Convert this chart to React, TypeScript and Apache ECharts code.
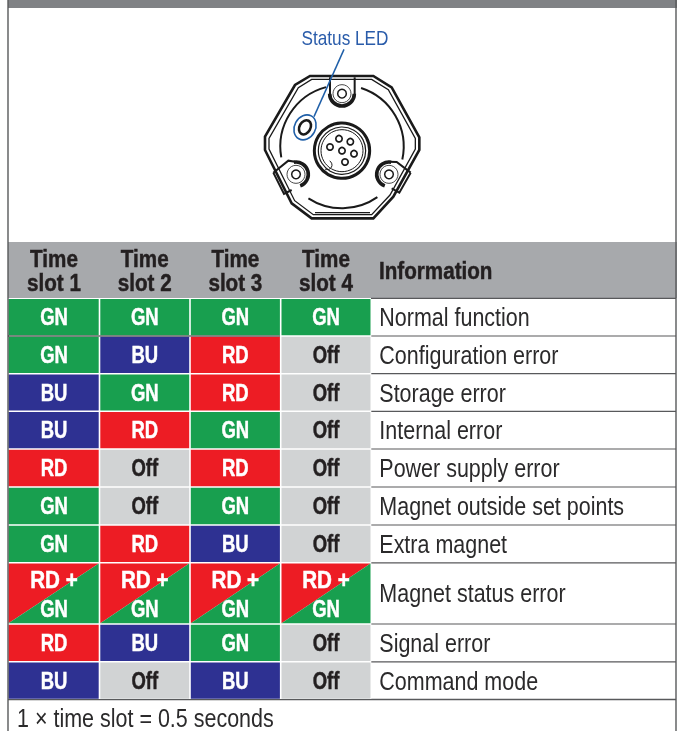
import React, { useEffect, useRef } from "react";
import * as echarts from "echarts";

// ---- data ----
const timeSlots = ["Time\nslot 1", "Time\nslot 2", "Time\nslot 3", "Time\nslot 4"];
const infoHeader = "Information";
const information = [
  "Normal function",
  "Configuration error",
  "Storage error",
  "Internal error",
  "Power supply error",
  "Magnet outside set points",
  "Extra magnet",
  "Magnet status error",
  "Signal error",
  "Command mode",
];
const slot1 = ["GN", "GN", "BU", "BU", "RD", "GN", "GN", "RD + GN", "RD", "BU"];
const slot2 = ["GN", "BU", "GN", "RD", "Off", "Off", "RD", "RD + GN", "BU", "Off"];
const slot3 = ["GN", "RD", "RD", "GN", "RD", "GN", "BU", "RD + GN", "GN", "BU"];
const slot4 = ["GN", "Off", "Off", "Off", "Off", "Off", "Off", "RD + GN", "Off", "Off"];
const footnote = "1 \u00d7 time slot = 0.5 seconds";
const calloutLabel = "Status LED";

// ---- layout and style ----
const W = 684;
const H = 731;
const colEdges = [8.5, 99.5, 190, 280.7, 371.3, 676];
const rowEdges = [298.3, 336, 373.7, 411.3, 449, 487, 525, 562.8, 624, 661.8, 699.4];
const colors: Record<string, string> = { GN: "#189f4f", BU: "#2e3192", RD: "#ed1c24", Off: "#d1d3d4" };
const FONT = '"Liberation Sans", sans-serif';
const INK = "#231f20";
const LINE = "#58595b";
const boldFont = `bold 24px ${FONT}`;
const infoFont = `25px ${FONT}`;
const WIDE = 0.86;
const NARROW = 0.77;

const z = (x: number, y: number): [number, number] => [220 + x / 3, y / 3];
const zpts = (pts: number[][]) => pts.map((p) => z(p[0], p[1]));

// Condensed text: the installed fonts are wider than the reference, so squeeze horizontally.
const label = (text: string, x: number, y: number, font: string, fill: string, align: string, scaleX: number, extra: any = {}) => ({
  type: "text",
  x,
  y,
  scaleX,
  style: {
    text,
    x: 0,
    y: 0,
    font,
    fill,
    align,
    verticalAlign: "middle",
    ...(font === boldFont ? { stroke: fill, lineWidth: 0.5 } : {}),
  },
  ...extra,
});

function App() {
  const ref = useRef<HTMLDivElement>(null);
  useEffect(() => {
    const chart = echarts.init(ref.current!, undefined, { renderer: "svg" });

    const slots = [slot1, slot2, slot3, slot4];
    const cells: any[] = [];
    slots.forEach((s, c) => s.forEach((v, r) => cells.push([c, r, v])));

    const renderCell = (_: any, api: any) => {
      const c = api.value(0);
      const r = api.value(1);
      const v = cells[_.dataIndex][2] as string;
      const [x0, y0] = api.coord([colEdges[c], rowEdges[r]]);
      const [x1, y1] = api.coord([colEdges[c + 1], rowEdges[r + 1]]);
      const cx = (x0 + x1) / 2;
      const l = x0 + (c === 0 ? 0 : 0.8);
      const rt = x1 - 0.8;
      const t = y0 + 0.7;
      const b = y1 - 0.7;
      const children: any[] = [];
      if (v.includes("+")) {
        const [a, d] = v.split(" + ");
        children.push(
          { type: "polygon", shape: { points: [[l, t], [rt, t], [l, b]] }, style: { fill: colors.RD } },
          { type: "polygon", shape: { points: [[rt, t], [rt, b], [l, b]] }, style: { fill: colors.GN } },
          label(a + " +", cx, y0 + 17, boldFont, "#fff", "center", WIDE),
          label(d, cx, y0 + 46, boldFont, "#fff", "center", NARROW),
        );
      } else {
        children.push(
          { type: "rect", shape: { x: l, y: t, width: rt - l, height: b - t }, style: { fill: colors[v] } },
          label(v, cx, (y0 + y1) / 2 + 0.5, boldFont, v === "Off" ? INK : "#fff", "center", NARROW),
        );
      }
      return { type: "group", children };
    };

    const renderInfo = (p: any, api: any) => {
      const r = api.value(0);
      const [x0, y0] = api.coord([colEdges[4], rowEdges[r]]);
      const [x1, y1] = api.coord([colEdges[5], rowEdges[r + 1]]);
      return {
        type: "group",
        children: [
          { type: "line", shape: { x1: x0, y1: y1, x2: x1, y2: y1 }, style: { stroke: LINE, lineWidth: 1.2 } },
          label(information[p.dataIndex], x0 + 8, (y0 + y1) / 2 + 0.5, infoFont, "#2b2a2b", "left", WIDE),
        ],
      };
    };

    const renderHead = (p: any, api: any) => {
      const c = api.value(0);
      const [x0] = api.coord([colEdges[c], 0]);
      const [x1] = api.coord([colEdges[c + 1], 0]);
      const [a, b] = timeSlots[p.dataIndex].split("\n");
      const cx = (x0 + x1) / 2;
      return {
        type: "group",
        children: [label(a, cx, 258.5, boldFont, INK, "center", WIDE), label(b, cx, 282.5, boldFont, INK, "center", WIDE)],
      };
    };

    const ink = { stroke: "#1a1a1a", fill: "none" };
    const arc = (x: number, y: number, r: number, a0: number, a1: number, lw: number) => ({
      type: "arc",
      shape: { cx: z(x, y)[0], cy: z(x, y)[1], r: r / 3, startAngle: (a0 * Math.PI) / 180, endAngle: (a1 * Math.PI) / 180, clockwise: true },
      style: { ...ink, lineWidth: lw },
      z: 7,
    });
    const circ = (x: number, y: number, r: number, lw: number, fill = "#fff", stroke = "#1a1a1a") => ({
      type: "circle",
      shape: { cx: z(x, y)[0], cy: z(x, y)[1], r: r / 3 },
      style: { fill, stroke, lineWidth: lw },
      z: 6,
    });
    const poly = (pts: number[][], lw: number, closed = false, fill = "none") => ({
      type: closed ? "polygon" : "polyline",
      shape: { points: zpts(pts) },
      style: { stroke: "#1a1a1a", fill, lineWidth: lw },
      z: 5,
    });

    const outer = [[270, 228], [460, 228], [515, 262], [598, 412], [598, 450], [520, 590], [460, 655], [275, 655], [215, 610], [135, 450], [135, 410], [225, 255]];
    const inner = [[275, 238], [455, 238], [505, 269], [586, 415], [586, 447], [510, 585], [455, 644], [280, 644], [224, 602], [147, 447], [147, 415], [235, 263]];

    const pins = [[357, 416], [391, 425], [330, 441], [366, 452], [402, 461], [375, 486]];

    const device: any[] = [
      poly(outer, 2.6, true),
      poly(inner, 1.3, true),
      poly([[285, 638], [450, 638]], 1.3),
      arc(366, 440, 185, -72, 12, 2),
      arc(366, 440, 185, 170, 255, 2),
      arc(366, 440, 185, 55, 123, 2),
      // top lug
      poly([[330, 232], [330, 285]], 2),
      poly([[404, 232], [404, 285]], 2),
      arc(366, 281, 37, 0, 180, 3.6),
      circ(366, 281, 27, 0.8),
      circ(366, 281, 13, 1.5),
      // left lug
      poly([[160, 518], [205, 482], [225, 485]], 2),
      poly([[160, 518], [192, 582], [215, 570]], 2),
      arc(228, 523, 37, -100, 70, 3.6),
      circ(228, 523, 27, 0.8),
      circ(228, 523, 13, 1.5),
      // right lug
      poly([[572, 518], [530, 486], [505, 485]], 2),
      poly([[572, 518], [538, 578], [515, 565]], 2),
      arc(507, 523, 37, 110, 280, 3.6),
      circ(507, 523, 27, 0.8),
      circ(507, 523, 13, 1.5),
      // connector
      circ(366, 452, 83, 3),
      circ(366, 452, 71, 1.2),
      circ(366, 452, 63, 1),
      arc(322, 495, 14, -60, 120, 1),
      ...pins.map((p) => circ(p[0], p[1], 9.5, 1.7)),
      // LED
      {
        type: "ellipse",
        x: z(255, 382)[0],
        y: z(255, 382)[1],
        rotation: -0.5,
        shape: { cx: 0, cy: 0, rx: 10.5, ry: 13 },
        style: { fill: "#fff", stroke: "#1f5fa8", lineWidth: 1.6 },
        z: 8,
      },
      {
        type: "ellipse",
        x: z(255, 382)[0],
        y: z(255, 382)[1],
        rotation: -0.5,
        shape: { cx: 0, cy: 0, rx: 5.5, ry: 7.5 },
        style: { fill: "#fff", stroke: "#1a1a1a", lineWidth: 2.6 },
        z: 9,
      },
      {
        type: "line",
        shape: { x1: z(372, 148)[0], y1: z(372, 148)[1], x2: z(282, 350)[0], y2: z(282, 350)[1] },
        style: { stroke: "#1f5fa8", lineWidth: 1.5 },
        z: 9,
      },
      label(calloutLabel, 345, 38, `20px ${FONT}`, "#2a5caa", "center", WIDE, { z: 9 }),
    ];

    const frame: any[] = [
      { type: "rect", shape: { x: 0, y: 0, width: W, height: H }, style: { fill: "#fff" }, z: -10 },
      { type: "rect", shape: { x: 8, y: 0, width: 669, height: 8 }, style: { fill: "#808285" }, z: -9 },
      { type: "rect", shape: { x: 8, y: 242, width: 669, height: 56 }, style: { fill: "#a7a9ac" }, z: -9 },
      { type: "line", shape: { x1: 8, y1: 0, x2: 8, y2: H }, style: { stroke: LINE, lineWidth: 1.4 }, z: 20 },
      { type: "line", shape: { x1: 676, y1: 0, x2: 676, y2: H }, style: { stroke: LINE, lineWidth: 1.4 }, z: 20 },
      { type: "line", shape: { x1: 371, y1: 298.3, x2: 676, y2: 298.3 }, style: { stroke: LINE, lineWidth: 1.2 }, z: 20 },
      { type: "line", shape: { x1: 8, y1: 699.6, x2: 676, y2: 699.6 }, style: { stroke: LINE, lineWidth: 1.2 }, z: 20 },
      { type: "line", shape: { x1: 8, y1: 336, x2: 280, y2: 336 }, style: { stroke: "#2b2a2b", lineWidth: 1 }, z: 20 },
      label(infoHeader, 379, 270.5, boldFont, INK, "left", WIDE, { z: 20 }),
      label(footnote, 17, 718, infoFont, "#2b2a2b", "left", WIDE, { z: 20 }),
    ];

    chart.setOption({
      animation: false,
      grid: { left: 0, right: 0, top: 0, bottom: 0 },
      xAxis: { type: "value", min: 0, max: W, show: false },
      yAxis: { type: "value", min: 0, max: H, inverse: true, show: false },
      graphic: { elements: [...frame, ...device] },
      series: [
        {
          type: "custom",
          coordinateSystem: "cartesian2d",
          renderItem: renderCell,
          data: cells.map((d) => [d[0], d[1]]),
          encode: { x: 0, y: 1 },
          clip: false,
          silent: true,
        },
        {
          type: "custom",
          coordinateSystem: "cartesian2d",
          renderItem: renderInfo,
          data: information.map((_, i) => [i, 0]),
          clip: false,
          silent: true,
        },
        {
          type: "custom",
          coordinateSystem: "cartesian2d",
          renderItem: renderHead,
          data: timeSlots.map((_, i) => [i, 0]),
          clip: false,
          silent: true,
        },
      ],
    });
    return () => chart.dispose();
  }, []);
  return <div ref={ref} style={{ position: "fixed", left: 0, top: 0, width: W, height: H }} />;
}

export default App;
